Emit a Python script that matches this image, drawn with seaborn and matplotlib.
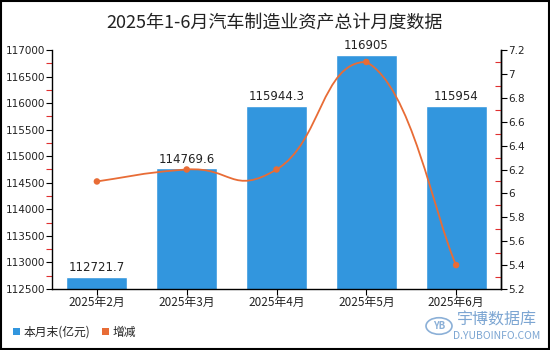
import numpy as np
import pandas as pd
import matplotlib
matplotlib.use("Agg")
import matplotlib.pyplot as plt
from matplotlib.path import Path
from matplotlib.patches import PathPatch, Patch, Circle
from matplotlib.ticker import MultipleLocator, FixedLocator
import seaborn as sns

# ---- data ----
months = ["2025年2月", "2025年3月", "2025年4月", "2025年5月", "2025年6月"]
assets = [112721.7, 114769.6, 115944.3, 116905, 115954]
bar_labels = ["112721.7", "114769.6", "115944.3", "116905", "115954"]
change = [6.1, 6.2, 6.2, 7.1, 5.4]

title = "2025年1-6月汽车制造业资产总计月度数据"
legend_bar = "本月末(亿元)"
legend_line = "增减"

BAR_COLOR = "#3296de"
LINE_COLOR = "#e86c36"

sns.set_theme(style="white")
plt.rcParams["font.family"] = ["Noto Sans CJK SC", "DejaVu Sans"]
plt.rcParams["axes.unicode_minus"] = False

fig = plt.figure(figsize=(5.5, 3.5), dpi=100)
ax = fig.add_axes([52 / 550, 1 - 289 / 350, (501 - 52) / 550, (289 - 50) / 350])

df = pd.DataFrame({"month": months, "assets": assets})
sns.barplot(data=df, x="month", y="assets", color=BAR_COLOR, saturation=1,
            width=0.68, ax=ax)
ax.set_ylim(112500, 117000)
ax.set_xlim(-0.5, len(months) - 0.5)
ax.set_xlabel("")
ax.set_ylabel("")

for cont in ax.containers:
    ax.bar_label(cont, labels=bar_labels, padding=2, fontsize=8.5, color="#222222",
                 family="DejaVu Sans")

ax.yaxis.set_major_locator(MultipleLocator(500))
ax.yaxis.set_minor_locator(MultipleLocator(250))
ax.tick_params(axis="y", which="major", left=True, length=4, width=0.8,
               color="black", labelsize=7.5, labelcolor="#222222", pad=1)
ax.tick_params(axis="y", which="minor", left=True, length=4, width=0.8,
               color="#e03030")
ax.tick_params(axis="x", which="major", bottom=True, length=4, width=0.8,
               color="black", labelsize=8.5, labelcolor="#222222", pad=1)
for lab in ax.get_yticklabels():
    lab.set_family("DejaVu Sans")

ax.spines["top"].set_visible(False)
for side in ["left", "bottom", "right"]:
    ax.spines[side].set_visible(True)
    ax.spines[side].set_color("black")
    ax.spines[side].set_linewidth(1.0)

# ---- secondary axis: change line ----
ax2 = ax.twinx()
ax2.set_ylim(5.2, 7.2)
major_r = np.round(np.arange(5.2, 7.21, 0.2), 1)
ax2.yaxis.set_major_locator(FixedLocator(major_r))
ax2.yaxis.set_minor_locator(FixedLocator(np.round(np.arange(5.3, 7.2, 0.2), 1)))
ax2.set_yticklabels([f"{v:g}" for v in major_r], family="DejaVu Sans")
ax2.tick_params(axis="y", which="major", right=True, length=4, width=0.8,
                color="black", labelsize=7.5, labelcolor="#222222", pad=1)
ax2.tick_params(axis="y", which="minor", right=True, direction="in", length=4,
                width=0.8, color="#e03030")
for side in ["top", "left", "bottom"]:
    ax2.spines[side].set_visible(False)
ax2.spines["right"].set_color("black")
ax2.spines["right"].set_linewidth(1.0)

# smoothed line through the points (cubic bezier segments)
xs = np.arange(len(change), dtype=float)
ys = np.array(change, dtype=float)
ymin, ymax = ys.min(), ys.max()
s = 0.25
verts = [(xs[0], ys[0])]
codes = [Path.MOVETO]
n = len(xs)
for i in range(n - 1):
    p0 = np.array([xs[max(i - 1, 0)], ys[max(i - 1, 0)]])
    p1 = np.array([xs[i], ys[i]])
    p2 = np.array([xs[i + 1], ys[i + 1]])
    p3 = np.array([xs[min(i + 2, n - 1)], ys[min(i + 2, n - 1)]])
    c1 = p1 + (p2 - p0) * s
    c2 = p2 - (p3 - p1) * s
    c1[1] = np.clip(c1[1], ymin, ymax)
    c2[1] = np.clip(c2[1], ymin, ymax)
    verts += [tuple(c1), tuple(c2), tuple(p2)]
    codes += [Path.CURVE4, Path.CURVE4, Path.CURVE4]
ax2.add_patch(PathPatch(Path(verts, codes), facecolor="none", edgecolor=LINE_COLOR,
                        linewidth=1.3, zorder=3))
sns.scatterplot(x=xs, y=ys, ax=ax2, color=LINE_COLOR, s=22, edgecolor="none",
                zorder=4, legend=False)
ax2.set_xlim(-0.5, len(months) - 0.5)

# ---- title ----
fig.text(0.5, 1 - 23 / 350, title, ha="center", va="center", fontsize=13,
         color="#222222")

# ---- legend ----
handles = [Patch(facecolor=BAR_COLOR, edgecolor="none"),
           Patch(facecolor=LINE_COLOR, edgecolor="none")]
fig.legend(handles, [legend_bar, legend_line], loc="center left",
           bbox_to_anchor=(2 / 550, 1 - 332 / 350), ncol=2, frameon=False,
           fontsize=8.5, handlelength=0.6, handleheight=0.6, handletextpad=0.3,
           columnspacing=1.0, labelcolor="#222222")

# ---- watermark ----
wm = "#5b8fc7"
fig.patches.append(Circle((439 / 550, 1 - 326 / 350), 13 / 550, transform=fig.transFigure,
                          facecolor="none", edgecolor=wm, linewidth=1.2, alpha=0.7))
fig.text(439 / 550, 1 - 326 / 350, "YB", ha="center", va="center", fontsize=7,
         color=wm, alpha=0.7, style="italic", fontweight="bold")
fig.text(497 / 550, 1 - 320 / 350, "宇博数据库", ha="center", va="center",
         fontsize=11.5, color=wm, alpha=0.8)
fig.text(497 / 550, 1 - 336 / 350, "D.YUBOINFO.COM", ha="center", va="center",
         fontsize=7.5, color=wm, alpha=0.8)

# ---- outer frame ----
fig.patches.append(plt.Rectangle((0.001, 0.002), 0.997, 0.996, transform=fig.transFigure,
                                 facecolor="none", edgecolor="black", linewidth=1.5))

fig.savefig("out.png", dpi=100)
